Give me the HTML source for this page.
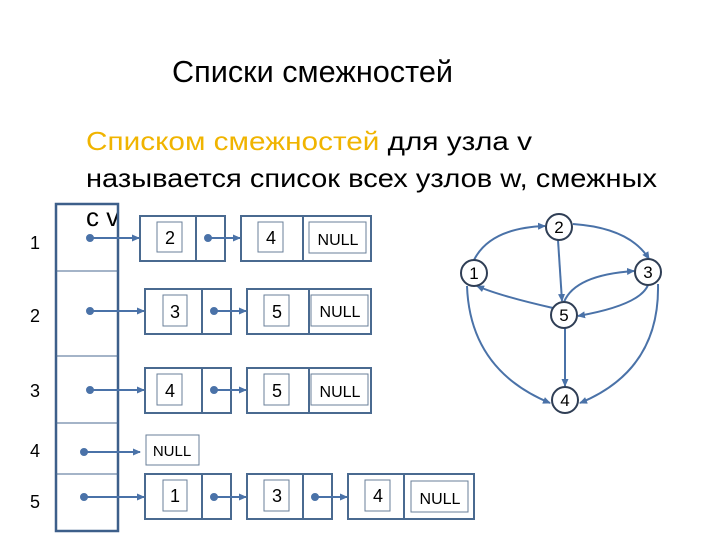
<!DOCTYPE html>
<html><head><meta charset="utf-8"><style>body{margin:0;background:#fff}svg{display:block}</style></head><body>
<svg width="720" height="540" viewBox="0 0 720 540" xmlns="http://www.w3.org/2000/svg" font-family="Liberation Sans, sans-serif">
<defs><marker id="a" markerWidth="8" markerHeight="8" refX="7" refY="4" orient="auto" markerUnits="userSpaceOnUse"><path d="M0,0.5 L8,4 L0,7.5 z" fill="#4a72a8"/></marker></defs>
<text x="172" y="82" font-size="31" fill="#000" textLength="281" lengthAdjust="spacingAndGlyphs">Списки смежностей</text>
<text x="86" y="150" font-size="26" textLength="446" lengthAdjust="spacingAndGlyphs"><tspan fill="#f0b400">Списком смежностей</tspan><tspan fill="#000"> для узла v</tspan></text>
<text x="86" y="187" font-size="26" fill="#000" textLength="571" lengthAdjust="spacingAndGlyphs">называется список всех узлов w, смежных</text>
<text x="86" y="226" font-size="26" fill="#000">с v</text>
<g stroke="#3d5f8a" fill="none" stroke-width="2.5">
<rect x="56" y="204" width="62" height="327"/>
</g>
<g stroke="#4a6a90" stroke-width="1">
<line x1="56" y1="271" x2="118" y2="271"/><line x1="56" y1="356" x2="118" y2="356"/><line x1="56" y1="423" x2="118" y2="423"/><line x1="56" y1="474" x2="118" y2="474"/>
</g>
<g font-size="18" fill="#000">
<text x="30" y="249">1</text><text x="30" y="322">2</text><text x="30" y="397">3</text><text x="30" y="457">4</text><text x="30" y="508">5</text>
</g>
<g stroke="#4a6a90" stroke-width="2" fill="none">
<rect x="140" y="216" width="85" height="45"/><line x1="196" y1="216" x2="196" y2="261"/>
<rect x="241" y="216" width="130" height="45"/><line x1="303" y1="216" x2="303" y2="261"/>
<rect x="145" y="289" width="86" height="45"/><line x1="202" y1="289" x2="202" y2="334"/>
<rect x="247" y="289" width="124" height="45"/><line x1="309" y1="289" x2="309" y2="334"/>
<rect x="145" y="368" width="86" height="45"/><line x1="202" y1="368" x2="202" y2="413"/>
<rect x="247" y="368" width="124" height="45"/><line x1="309" y1="368" x2="309" y2="413"/>
<rect x="145" y="474" width="86" height="45"/><line x1="202" y1="474" x2="202" y2="519"/>
<rect x="247" y="474" width="85" height="45"/><line x1="303" y1="474" x2="303" y2="519"/>
<rect x="348" y="474" width="126" height="45"/><line x1="404" y1="474" x2="404" y2="519"/>
</g>
<g stroke="#6a7f99" stroke-width="1" fill="none">
<rect x="157" y="222" width="25" height="30"/><rect x="258" y="222" width="25" height="30"/><rect x="309" y="222" width="57" height="31"/>
<rect x="163" y="295" width="24" height="31"/><rect x="264" y="295" width="25" height="31"/><rect x="311" y="295" width="57" height="31"/>
<rect x="157" y="374" width="25" height="31"/><rect x="264" y="374" width="25" height="31"/><rect x="311" y="374" width="57" height="31"/>
<rect x="146" y="435" width="53" height="30"/>
<rect x="163" y="480" width="24" height="31"/><rect x="264" y="480" width="25" height="31"/><rect x="365" y="480" width="25" height="31"/><rect x="411" y="481" width="57" height="31"/>
</g>
<g font-size="18" fill="#000" text-anchor="middle">
<text x="170" y="244">2</text><text x="271" y="244">4</text><text x="338" y="245" font-size="16">NULL</text>
<text x="175" y="318">3</text><text x="277" y="318">5</text><text x="340" y="317" font-size="16">NULL</text>
<text x="170" y="397">4</text><text x="277" y="397">5</text><text x="340" y="397" font-size="16">NULL</text>
<text x="172" y="456" font-size="15">NULL</text>
<text x="175" y="502">1</text><text x="277" y="502">3</text><text x="378" y="502">4</text><text x="440" y="504" font-size="16">NULL</text>
</g>
<g stroke="#4a72a8" stroke-width="2" fill="#4a72a8">
<g marker-end="url(#a)">
<line x1="90" y1="238" x2="139" y2="238"/><line x1="208" y1="238" x2="240" y2="238"/>
<line x1="90" y1="311" x2="144" y2="311"/><line x1="214" y1="311" x2="246" y2="311"/>
<line x1="90" y1="390" x2="144" y2="390"/><line x1="214" y1="390" x2="246" y2="390"/>
<line x1="84" y1="452" x2="140" y2="452"/>
<line x1="84" y1="497" x2="144" y2="497"/><line x1="214" y1="497" x2="246" y2="497"/><line x1="315" y1="497" x2="347" y2="497"/>
</g>
<circle cx="90" cy="238" r="3"/><circle cx="208" cy="238" r="3"/><circle cx="90" cy="311" r="3"/><circle cx="214" cy="311" r="3"/><circle cx="90" cy="390" r="3"/><circle cx="214" cy="390" r="3"/><circle cx="84" cy="452" r="3"/><circle cx="84" cy="497" r="3"/><circle cx="214" cy="497" r="3"/><circle cx="315" cy="497" r="3"/>
</g>
<g stroke="#4a72a8" stroke-width="2" fill="none" marker-end="url(#a)">
<path d="M474,260 Q490,228 545,226"/>
<path d="M573,224 Q630,228 649,259"/>
<path d="M558,240 L562,301"/>
<path d="M553,308 Q500,296 477,286"/>
<path d="M564,302 Q575,275 634,271"/>
<path d="M648,285 Q640,305 578,316"/>
<path d="M565,328 L565,386"/>
<path d="M467,286 Q470,370 550,403"/>
<path d="M658,284 Q660,370 580,403"/>
</g>
<g stroke="#2f3e55" stroke-width="2" fill="#fff" font-size="17">
<circle cx="559" cy="227" r="13"/><circle cx="474" cy="273" r="13"/><circle cx="648" cy="272" r="13"/><circle cx="564" cy="315" r="13"/><circle cx="565" cy="400" r="13"/>
</g>
<g font-size="17" fill="#000" text-anchor="middle">
<text x="559" y="233">2</text><text x="474" y="279">1</text><text x="648" y="278">3</text><text x="564" y="321">5</text><text x="565" y="406">4</text>
</g>
</svg>
</body></html>
